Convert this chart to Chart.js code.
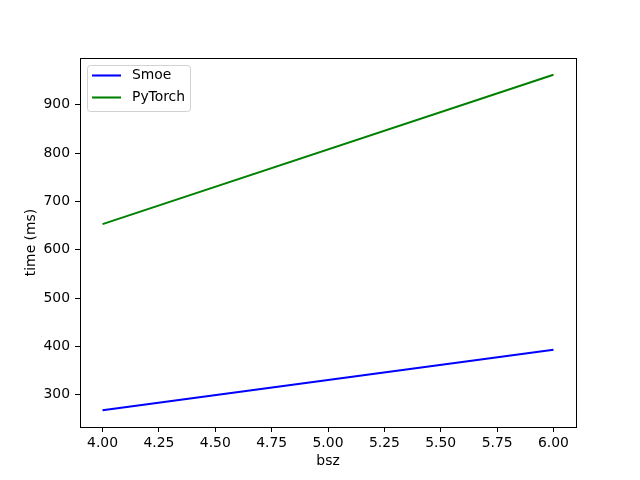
<!DOCTYPE html>
<html>
<head>
<meta charset="utf-8">
<script src="https://cdn.jsdelivr.net/npm/chart.js@4/dist/chart.umd.min.js"></script>
<style>
html,body{margin:0;padding:0;background:#fff;}
#wrap{width:640px;height:480px;}
</style>
</head>
<body>
<div id="wrap"><canvas id="c" width="640" height="480"></canvas></div>
<script>
const bsz = [4, 6];
const smoe = [268, 393];
const pytorch = [653, 962];
const seriesNames = ['Smoe', 'PyTorch'];
const xTicks = [4.00, 4.25, 4.50, 4.75, 5.00, 5.25, 5.50, 5.75, 6.00];
const yTicks = [300, 400, 500, 600, 700, 800, 900];
const xLabel = 'bsz';
const yLabel = 'time (ms)';

const FONT = 'DejaVu Sans';
const FS = 13.9;

function pts(xs, ys) { return xs.map((x, i) => ({x: x, y: ys[i]})); }

const xmin = Math.min(...bsz), xmax = Math.max(...bsz);
const allY = smoe.concat(pytorch);
const ymin = Math.min(...allY), ymax = Math.max(...allY);
const xm = (xmax - xmin) * 0.05, ym = (ymax - ymin) * 0.05;

const colors = ['#0000ff', '#008000'];

const frame = {
  id: 'frame',
  afterDatasetsDraw(chart) {
    const {ctx, chartArea: a} = chart;
    ctx.save();
    ctx.strokeStyle = '#000';
    ctx.lineWidth = 1;
    ctx.strokeRect(Math.round(a.left) + 0.5, Math.round(a.top) + 0.5, Math.round(a.right - a.left), Math.round(a.bottom - a.top));
    // legend
    const lx = 87.5, ly = 65.5, lw = 103, lh = 46;
    ctx.fillStyle = 'rgba(255,255,255,0.8)';
    ctx.strokeStyle = 'rgba(204,204,204,0.9)';
    ctx.beginPath();
    const r = 3;
    ctx.moveTo(lx + r, ly);
    ctx.lineTo(lx + lw - r, ly); ctx.arcTo(lx + lw, ly, lx + lw, ly + r, r);
    ctx.lineTo(lx + lw, ly + lh - r); ctx.arcTo(lx + lw, ly + lh, lx + lw - r, ly + lh, r);
    ctx.lineTo(lx + r, ly + lh); ctx.arcTo(lx, ly + lh, lx, ly + lh - r, r);
    ctx.lineTo(lx, ly + r); ctx.arcTo(lx, ly, lx + r, ly, r);
    ctx.closePath();
    ctx.fill(); ctx.stroke();
    const rows = [75.5, 97.5];
    ctx.font = FS + 'px "' + FONT + '"';
    ctx.textBaseline = 'middle';
    ctx.textAlign = 'left';
    seriesNames.forEach((n, i) => {
      ctx.strokeStyle = colors[i];
      ctx.lineWidth = 2.08;
      ctx.beginPath();
      ctx.moveTo(92, rows[i]); ctx.lineTo(121, rows[i]);
      ctx.stroke();
      ctx.fillStyle = '#000';
      ctx.fillText(n, 132, rows[i]);
    });
    ctx.restore();
  }
};

new Chart(document.getElementById('c'), {
  type: 'line',
  data: {
    datasets: [
      {label: seriesNames[0], data: pts(bsz, smoe), borderColor: colors[0], borderWidth: 2.08, pointRadius: 0, fill: false, tension: 0},
      {label: seriesNames[1], data: pts(bsz, pytorch), borderColor: colors[1], borderWidth: 2.08, pointRadius: 0, fill: false, tension: 0}
    ]
  },
  options: {
    responsive: false,
    animation: false,
    layout: {padding: {left: 0, right: 64, top: 58, bottom: 0}},
    plugins: {legend: {display: false}, tooltip: {enabled: false}},
    scales: {
      x: {
        type: 'linear',
        min: xmin - xm, max: xmax + xm,
        afterBuildTicks: s => { s.ticks = xTicks.map(v => ({value: v})); },
        afterFit: s => { s.height = 53; },
        ticks: {
          callback: v => Number(v).toFixed(2),
          color: '#000', font: {family: FONT, size: FS}, padding: 3, maxRotation: 0, autoSkip: false
        },
        grid: {display: true, drawOnChartArea: false, drawTicks: true, tickLength: 5, color: '#000', tickWidth: 1},
        border: {display: true, color: '#000', width: 1},
        title: {display: true, text: xLabel, color: '#000', font: {family: FONT, size: FS}, padding: {top: 0, bottom: 10.7}}
      },
      y: {
        type: 'linear',
        min: ymin - ym, max: ymax + ym,
        afterBuildTicks: s => { s.ticks = yTicks.map(v => ({value: v})); },
        afterFit: s => { s.width = 80; },
        ticks: {color: '#000', font: {family: FONT, size: FS}, padding: 5, autoSkip: false},
        grid: {display: true, drawOnChartArea: false, drawTicks: true, tickLength: 5, color: '#000', tickWidth: 1},
        border: {display: true, color: '#000', width: 1},
        title: {display: true, text: yLabel, color: '#000', font: {family: FONT, size: FS}, padding: {top: 22.7, bottom: 0}}
      }
    }
  },
  plugins: [frame]
});
</script>
</body>
</html>
